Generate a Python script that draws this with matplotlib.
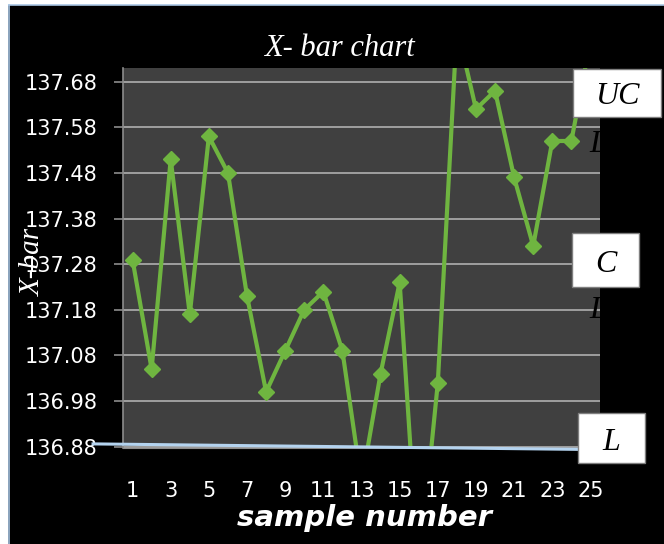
import matplotlib
matplotlib.use('Agg')
import matplotlib.pyplot as plt
from matplotlib.patches import Rectangle
from matplotlib.lines import Line2D

# ---- data ----
samples = list(range(1, 26))
xbar = [137.29, 137.05, 137.51, 137.17, 137.56, 137.48, 137.21, 137.00, 137.09, 137.18,
        137.22, 137.09, 136.80, 137.04, 137.24, 136.60, 137.02, 137.80, 137.62, 137.66,
        137.47, 137.32, 137.55, 137.55, 137.77]
y_ticks = [136.88, 136.98, 137.08, 137.18, 137.28, 137.38, 137.48, 137.58, 137.68]
x_tick_labels = [1, 3, 5, 7, 9, 11, 13, 15, 17, 19, 21, 23, 25]
lcl_x = [-1.07, 24.35]
lcl_y = [136.886, 136.874]
limit_labels = ['UC', 'C', 'L']

W, H = 664, 544
def fx(x):
    return x / W
def fy(y):
    return 1 - y / H

fig = plt.figure(figsize=(W / 100, H / 100), dpi=100, facecolor='black')

# white frame at top/left
fig.patches.append(Rectangle((0, 0), fx(8), 1, transform=fig.transFigure, facecolor='white', edgecolor='none', zorder=20))
fig.patches.append(Rectangle((0, fy(5)), 1, 5 / H, transform=fig.transFigure, facecolor='white', edgecolor='none', zorder=20))
fig.lines.append(Line2D([fx(8.5), fx(8.5)], [0, fy(4.5)], transform=fig.transFigure, color='#a9c6e4', lw=1.2, zorder=21))
fig.lines.append(Line2D([fx(8.5), 1], [fy(4.5), fy(4.5)], transform=fig.transFigure, color='#a9c6e4', lw=1.2, zorder=21))

ax = fig.add_axes([fx(123), fy(448), (600 - 123) / W, (448 - 68) / H])
ax.set_facecolor('#404040')
ax.set_xlim(0.5, 25.5)
ax.set_ylim(136.877, 137.71)

ax.set_yticks(y_ticks)
ax.set_yticklabels([f'{v:.2f}' for v in y_ticks])
ax.set_xticks(x_tick_labels)
ax.set_xticklabels([str(v) for v in x_tick_labels])

ax.grid(axis='y', color='#a6a6a6', lw=1.3)
ax.set_axisbelow(True)
for s in ['top', 'right']:
    ax.spines[s].set_visible(False)
ax.spines['left'].set_color('#8c8c8c')
ax.spines['bottom'].set_color('#8c8c8c')
ax.spines['left'].set_linewidth(1.2)

ax.tick_params(axis='y', colors='#8c8c8c', length=6.5, width=1.2, pad=12, labelcolor='white')
ax.tick_params(axis='x', length=0, pad=24, labelcolor='white')
for lab in ax.get_yticklabels() + ax.get_xticklabels():
    lab.set_fontfamily('DejaVu Sans')
    lab.set_fontsize(15)

ax.plot(samples, xbar, color='#6fb540', lw=3, marker='D', markersize=8,
        markerfacecolor='#6fb540', markeredgecolor='#6fb540', zorder=3)

ax.plot(lcl_x, lcl_y, color='#b4d3ef', lw=2.2, clip_on=False, zorder=4)

# title / axis labels
fig.text(fx(339), fy(49), 'X- bar chart', color='white', fontsize=22, style='italic',
         family='Liberation Serif', ha='center', va='center')
fig.text(fx(33), fy(262), 'X-bar', color='white', fontsize=21, style='italic',
         family='Liberation Serif', ha='center', va='center', rotation=90)
fig.text(fx(365), fy(518), 'sample number', color='white', fontsize=21, style='italic',
         weight='bold', family='DejaVu Sans', ha='center', va='center')

# limit label boxes
boxes = [(573, 69, 661, 117), (572, 233, 639, 287), (578, 413, 645, 463)]
for (x0, y0, x1, y1), lab in zip(boxes, limit_labels):
    fig.patches.append(Rectangle((fx(x0), fy(y1)), (x1 - x0) / W, (y1 - y0) / H,
                                 transform=fig.transFigure, facecolor='white',
                                 edgecolor='#7f7f7f', lw=1, zorder=10))
    fig.text(fx((x0 + x1) / 2), fy((y0 + y1) / 2 + 4), lab, color='black', fontsize=23,
             style='italic', family='Liberation Serif', ha='center', va='center', zorder=11)

# overflow second-line "L"s (black text)
for yy in (145, 310):
    fig.text(fx(598), fy(yy), 'L', color='black', fontsize=23, style='italic',
             family='Liberation Serif', ha='center', va='center', zorder=11)

fig.savefig('out.png', dpi=100, facecolor=fig.get_facecolor())
